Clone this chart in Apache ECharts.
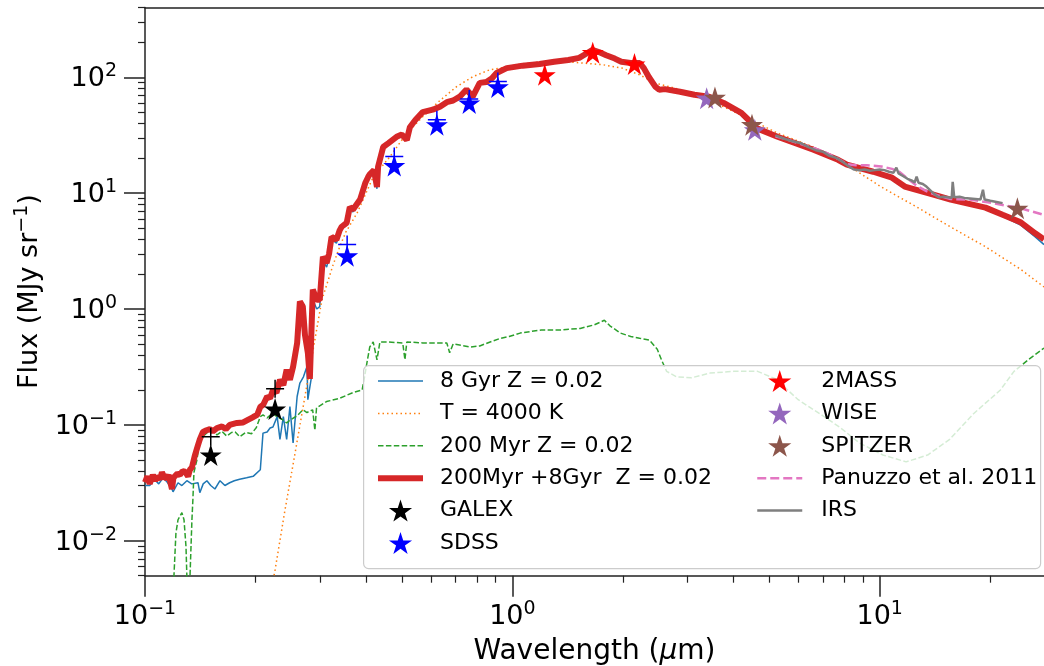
<!DOCTYPE html>
<html><head><meta charset="utf-8">
<script src="https://cdn.jsdelivr.net/npm/echarts@6/dist/echarts.min.js"></script>
<style>html,body{margin:0;padding:0;background:#fff}#c{width:1044px;height:666px}</style>
</head><body><div id="c"></div>
<script>
// ---------- tick values ----------
const xMajorTicks = [0.1, 1, 10];
const xMinorTicks = [0.2,0.3,0.4,0.5,0.6,0.7,0.8,0.9,2,3,4,5,6,7,8,9,20];
const yMajorTicks = [0.01, 0.1, 1, 10, 100];
const yMinorTicks = [0.005,0.006,0.007,0.008,0.009,0.02,0.03,0.04,0.05,0.06,0.07,0.08,0.09,
  0.2,0.3,0.4,0.5,0.6,0.7,0.8,0.9,2,3,4,5,6,7,8,9,20,30,40,50,60,70,80,90,200,300,400];

// ---------- model spectra [wavelength (um), flux (MJy/sr)] ----------
const old8Gyr = [[0.100,0.030],[0.103,0.030],[0.106,0.034],[0.109,0.031],[0.112,0.035],[0.115,0.032],[0.1184,0.028],[0.1192,0.0265],[0.123,0.0317],[0.126,0.030],[0.130,0.033],[0.134,0.031],[0.1394,0.0317],[0.141,0.026],[0.144,0.031],[0.1474,0.033],[0.151,0.030],[0.155,0.028],[0.160,0.033],[0.165,0.030],[0.170,0.0317],[0.175,0.033],[0.181,0.034],[0.189,0.035],[0.197,0.036],[0.206,0.041],[0.2095,0.085],[0.215,0.087],[0.219,0.094],[0.223,0.096],[0.229,0.118],[0.233,0.075],[0.238,0.118],[0.243,0.075],[0.248,0.144],[0.253,0.07],[0.2595,0.176],[0.264,0.23],[0.270,0.26],[0.276,0.32],[0.2775,0.165],[0.285,0.28],[0.2863,1.2],[0.2934,1.0],[0.299,1.05],[0.305,2.6],[0.3122,2.3],[0.317,2.8],[0.322,4.0],[0.332,3.7],[0.339,4.6],[0.343,4.9],[0.354,5.3],[0.361,7.3],[0.368,6.9],[0.385,8.5],[0.398,11.9],[0.405,13.4],[0.409,14.0],[0.42,15.2],[0.428,10.9],[0.431,16.4],[0.445,24.4],[0.46,26.4],[0.484,30],[0.50,31.4],[0.516,28.3],[0.526,36.4],[0.545,42.4],[0.570,49.4],[0.607,51.9],[0.635,55.1],[0.663,60.4],[0.69,62.4],[0.719,67.4],[0.75,77.9],[0.78,67.4],[0.815,89],[0.85,90.5],[0.88,97.4],[0.906,108.4],[0.965,119.4],[1.067,125.4],[1.186,129.4],[1.3,135.4],[1.42,140.4],[1.52,146.3],[1.6,161.2],[1.65,171.3],[1.72,164.3],[1.8,154.2],[1.9,144.4],[1.98,135.4],[2.1,132.5],[2.22,132.5],[2.28,119.5],[2.35,100.5],[2.45,82.6],[2.51,77.7],[2.6,78.7],[2.86,74.7],[3.13,70.3],[3.43,67.7],[3.76,59.7],[4.2,49.1],[4.39,42.8],[4.6,36.4],[5.27,30.6],[6.6,23.6],[7.7,19.3],[8.14,17.5],[9.6,15.2],[10.8,13.5],[11.7,11.3],[14.0,9.6],[15.6,8.7],[19.4,7.4],[21.6,6.3],[24.2,5.3],[26.5,4.2],[28,3.6]];

const blackBody4000 = [[0.215,0.0025],[0.226,0.0056],[0.240,0.0178],[0.2557,0.0553],[0.2724,0.175],[0.290,0.543],[0.303,1.2],[0.312,1.6],[0.325,2.4],[0.339,3.46],[0.352,4.6],[0.378,6.75],[0.418,13.8],[0.464,20.6],[0.516,33],[0.57,45.6],[0.635,63],[0.705,83],[0.78,101],[0.867,116],[0.965,123],[1.067,131],[1.186,135],[1.46,135],[1.77,128],[1.99,120],[2.22,105],[2.45,89],[2.75,81],[3.05,73],[3.43,64],[4.2,47],[5.27,33],[6.6,25],[8.14,17.6],[10.1,11.3],[12.6,7.6],[15.6,5.1],[19.4,3.45],[24.2,2.2],[28,1.55]];

const young200Myr = [[0.1195,0.003],[0.1199,0.005],[0.1214,0.0117],[0.123,0.0152],[0.126,0.0175],[0.1277,0.0152],[0.1293,0.0089],[0.130,0.005],[0.1305,0.003],[0.132,0.003],[0.1326,0.005],[0.1342,0.0152],[0.135,0.0226],[0.1359,0.039],[0.1385,0.050],[0.141,0.0745],[0.147,0.085],[0.152,0.091],[0.157,0.082],[0.162,0.088],[0.167,0.080],[0.172,0.086],[0.176,0.087],[0.181,0.079],[0.188,0.086],[0.195,0.084],[0.201,0.095],[0.206,0.118],[0.2095,0.122],[0.215,0.115],[0.223,0.127],[0.229,0.117],[0.236,0.112],[0.243,0.104],[0.248,0.11],[0.2595,0.12],[0.269,0.135],[0.276,0.128],[0.286,0.135],[0.29,0.09],[0.293,0.14],[0.312,0.159],[0.339,0.17],[0.368,0.19],[0.39,0.2],[0.396,0.26],[0.402,0.345],[0.409,0.47],[0.418,0.52],[0.428,0.365],[0.436,0.52],[0.455,0.52],[0.503,0.51],[0.51,0.365],[0.516,0.52],[0.57,0.51],[0.635,0.51],[0.663,0.51],[0.675,0.42],[0.69,0.5],[0.77,0.47],[0.815,0.48],[0.87,0.52],[0.93,0.56],[0.98,0.58],[1.05,0.62],[1.2,0.66],[1.35,0.66],[1.53,0.68],[1.67,0.73],[1.78,0.8],[1.84,0.72],[1.97,0.62],[2.1,0.58],[2.22,0.56],[2.36,0.54],[2.48,0.45],[2.55,0.36],[2.63,0.29],[2.8,0.26],[3.07,0.255],[3.45,0.28],[4.0,0.29],[4.65,0.29],[5.2,0.25],[6.0,0.165],[7.0,0.12],[7.8,0.095],[8.8,0.07],[10.2,0.055],[11.8,0.048],[13.5,0.055],[15.5,0.075],[18.0,0.125],[21.3,0.2],[23.2,0.29],[25.5,0.37],[28,0.46]];

const combinedModel = [[0.100,0.032],[0.1015,0.036],[0.103,0.031],[0.105,0.037],[0.1065,0.033],[0.108,0.036],[0.110,0.034],[0.1112,0.039],[0.113,0.035],[0.1148,0.035],[0.116,0.037],[0.1175,0.031],[0.1184,0.028],[0.1195,0.035],[0.1207,0.034],[0.1225,0.038],[0.1245,0.037],[0.1265,0.040],[0.1285,0.0395],[0.131,0.036],[0.1325,0.041],[0.1342,0.043],[0.1368,0.055],[0.1394,0.067],[0.141,0.075],[0.1438,0.087],[0.147,0.09],[0.1502,0.092],[0.153,0.088],[0.157,0.094],[0.162,0.097],[0.166,0.092],[0.170,0.1],[0.178,0.104],[0.185,0.105],[0.19,0.11],[0.197,0.117],[0.202,0.122],[0.206,0.143],[0.21,0.15],[0.215,0.176],[0.219,0.17],[0.223,0.2],[0.228,0.19],[0.233,0.245],[0.238,0.22],[0.243,0.3],[0.248,0.245],[0.253,0.318],[0.2595,0.51],[0.264,1.16],[0.2689,1.05],[0.2725,0.6],[0.2775,0.42],[0.281,0.25],[0.2863,1.47],[0.2934,1.2],[0.299,1.2],[0.305,2.83],[0.3122,2.5],[0.317,3.0],[0.322,4.2],[0.332,3.96],[0.339,4.8],[0.343,5.13],[0.354,5.55],[0.361,7.6],[0.368,7.2],[0.385,8.8],[0.398,12.3],[0.405,13.8],[0.409,14.5],[0.42,15.8],[0.428,11.3],[0.431,16.9],[0.445,25],[0.46,27],[0.484,30.6],[0.50,32],[0.516,28.8],[0.526,37],[0.545,43],[0.570,50],[0.607,52.5],[0.635,55.7],[0.663,61],[0.69,63],[0.719,68],[0.75,78.5],[0.78,68],[0.815,89.5],[0.85,91],[0.88,98],[0.906,109],[0.965,120],[1.067,126],[1.186,130],[1.3,136],[1.42,141],[1.52,147],[1.6,162],[1.65,172],[1.72,165],[1.8,155],[1.9,145],[1.98,136],[2.1,133],[2.22,133],[2.28,120],[2.35,101],[2.45,83],[2.51,78],[2.6,79],[2.86,75],[3.13,70.6],[3.43,68],[3.76,60],[4.2,49.4],[4.39,43],[4.6,36.6],[5.27,30.7],[6.6,23.7],[7.7,19.4],[8.14,17.6],[9.6,15.3],[10.8,13.6],[11.7,11.4],[14.0,9.7],[15.6,8.8],[19.4,7.5],[21.6,6.5],[24.2,5.6],[26.5,4.5],[28,4.0]];

const panuzzo2011 = [[5.2,31],[5.6,29],[6.0,27],[6.6,24.5],[7.0,23],[7.7,19.8],[8.14,17.8],[8.6,17.4],[9.2,17.4],[10.1,17.0],[10.8,16.2],[11.3,15.3],[11.9,13.4],[12.6,11.6],[13.4,10.4],[14.3,9.6],[15.6,8.9],[17.6,8.8],[20.3,8.2],[24.2,7.4],[28,6.5]];

const irsSpectrum = [[5.2,31.5],[5.5,29.5],[5.8,28],[6.1,27],[6.4,25],[6.7,23.5],[7.0,22.8],[7.3,21],[7.6,20.2],[7.9,18.8],[8.2,17.2],[8.5,16.0],[8.8,15.8],[9.1,16.0],[9.4,15.6],[9.7,15.8],[10.0,16.0],[10.3,15.8],[10.6,15.3],[10.9,15.0],[11.1,16.6],[11.25,14.8],[11.6,14.0],[11.9,13.3],[12.2,12.9],[12.45,12.4],[12.6,13.9],[12.75,12.3],[13.1,12.0],[13.4,11.4],[13.8,10.4],[14.2,9.6],[14.5,9.2],[14.9,9.3],[15.3,9.2],[15.7,9.1],[15.8,12.5],[15.95,9.2],[16.5,9.3],[17.0,9.1],[17.6,9.0],[18.2,8.9],[18.8,8.8],[19.1,10.7],[19.3,8.8],[20.0,8.6],[20.8,8.4],[21.6,8.2]];

// ---------- photometry [wavelength (um), flux] ----------
const galexPts = [[0.151,0.055],[0.226,0.137]];
const galexUp = [[0.151,0.079],[0.226,0.205]];
const sdssPts = [[0.355,2.88],[0.477,17.3],[0.623,38.9],[0.763,60],[0.913,82.6]];
const sdssUp = [[0.355,3.6],[0.477,20.7],[0.623,43],[0.763,65],[0.913,92]];
const twomassPts = [[1.225,105],[1.655,163],[2.15,130]];
const wisePts = [[3.38,66],[4.57,35.2]];
const spitzerPts = [[3.56,67],[4.49,39],[23.7,7.4]];

const legendLeft = ['8 Gyr Z = 0.02','T = 4000 K','200 Myr Z = 0.02','200Myr +8Gyr  Z = 0.02','GALEX','SDSS'];
const legendRight = ['2MASS','WISE','SPITZER','Panuzzo et al. 2011','IRS'];

const FONT = 'DejaVu Sans';
const STAR = 'path://M0,-1L0.2245,-0.309L0.9511,-0.309L0.3633,0.118L0.5878,0.809L0,0.382L-0.5878,0.809L-0.3633,0.118L-0.9511,-0.309L-0.2245,-0.309Z';
const PLUS = 'path://M-1,0L1,0M0,-1L0,1';

function powFmt(v){
  const e = Math.round(Math.log10(v));
  return '{b|10}{s|' + (e < 0 ? '\u2212' + (-e) : e) + '}';
}
const tickRich = {
  b:{fontSize:27,fontFamily:FONT,color:'#000',verticalAlign:'bottom'},
  s:{fontSize:19,fontFamily:FONT,color:'#000',verticalAlign:'bottom',padding:[0,0,12,0]}
};
const X = {min:0.1,max:28,type:'log',logBase:10};
const Y = {min:0.005,max:400,type:'log',logBase:10};
const lineAx = {show:true,lineStyle:{color:'#222',width:1.5}};

const chart = echarts.init(document.getElementById('c'), null, {renderer:'canvas'});

const lineSpecs = {};
function line(name, data, color, width, type, z){
  lineSpecs[name] = {color, width, type: type||'solid'};
  return {name, type:'line', data, xAxisIndex:0, yAxisIndex:0, showSymbol:false, symbol:'none',
    lineStyle:{color, width, type: type||'solid'}, itemStyle:{color}, z, clip:true, silent:true};
}
function stars(name, data, color, z){
  return {name, type:'scatter', data, symbol:STAR, symbolSize:22, itemStyle:{color, opacity:1}, z, silent:true};
}
function plus(data, color, z){
  return {type:'scatter', data, symbol:PLUS, symbolSize:18, symbolKeepAspect:true,
    itemStyle:{color:'rgba(0,0,0,0)', borderColor:color, borderWidth:1.5, opacity:1}, z, silent:true};
}

const seriesList = [
  line('8 Gyr Z = 0.02', old8Gyr, '#1f77b4', 1.5, 'solid', 2),
  line('T = 4000 K', blackBody4000, '#ff7f0e', 1.5, [1.5,3], 2),
  line('200 Myr Z = 0.02', young200Myr, '#2ca02c', 1.5, [5.5,2.4], 2),
  line('200Myr +8Gyr  Z = 0.02', combinedModel, '#d62728', 6, 'solid', 2),
  stars('GALEX', galexPts, '#000000', 2),
  plus(galexUp, '#000000', 2),
  stars('SDSS', sdssPts, '#0000ff', 2),
  plus(sdssUp, '#0000ff', 2),
  stars('2MASS', twomassPts, '#ff0000', 2),
  stars('WISE', wisePts, '#9467bd', 2),
  stars('SPITZER', spitzerPts, '#8c564b', 2),
  line('Panuzzo et al. 2011', panuzzo2011, '#e377c2', 2.5, [9,4], 2),
  line('IRS', irsSpectrum, '#7f7f7f', 2.5, 'solid', 2)
];

function legendItems(names){
  return names.map(n => {
    const s = lineSpecs[n];
    if (!s) return {name:n};
    return {name:n,
      itemStyle:{color:'rgba(0,0,0,0)', borderColor:'rgba(0,0,0,0)', borderWidth:0},
      lineStyle:{color:s.color, width:s.width, type:s.type}};
  });
}

const legendCommon = {orient:'vertical', itemWidth:45, itemHeight:22, itemGap:10.4, padding:0, selectedMode:false,
  textStyle:{fontSize:22, fontFamily:FONT, color:'#000', lineHeight:22}, z:5};

chart.setOption({
  animation:false,
  backgroundColor:'#fff',
  grid:{left:145, right:0, top:7.5, bottom:90.3, containLabel:false, outerBoundsMode:'none'},
  xAxis:[
    Object.assign({}, X, {position:'bottom', axisLine:lineAx,
      axisTick:{show:true, customValues:xMajorTicks, length:21, lineStyle:{color:'#222',width:1.5}},
      axisLabel:{show:true, customValues:xMajorTicks, formatter:powFmt, rich:tickRich, margin:24},
      splitLine:{show:false},
      name:'{n|Wavelength (}{i|\u03bc}{n|m)}', nameLocation:'middle', nameGap:62,
      nameTextStyle:{rich:{n:{fontSize:28,fontFamily:FONT,color:'#000'},i:{fontSize:28,fontFamily:FONT,fontStyle:'italic',color:'#000'}}}}),
    Object.assign({}, X, {position:'bottom', axisLine:{show:false},
      axisTick:{show:true, customValues:xMinorTicks, length:7, lineStyle:{color:'#222',width:1.2}},
      axisLabel:{show:false}, splitLine:{show:false}}),
    Object.assign({}, X, {position:'top', axisLine:lineAx, axisTick:{show:false}, axisLabel:{show:false}, splitLine:{show:false}})
  ],
  yAxis:[
    Object.assign({}, Y, {position:'left', axisLine:lineAx,
      axisTick:{show:true, customValues:yMajorTicks, length:21, lineStyle:{color:'#222',width:1.5}},
      axisLabel:{show:true, customValues:yMajorTicks, formatter:powFmt, rich:tickRich, margin:28},
      splitLine:{show:false},
      name:'{n|Flux (MJy sr}{s|\u22121}{n|)}', nameLocation:'middle', nameGap:100, nameRotate:90,
      nameTextStyle:{rich:{n:{fontSize:27,fontFamily:FONT,color:'#000',verticalAlign:'bottom'},s:{fontSize:19,fontFamily:FONT,color:'#000',verticalAlign:'bottom',padding:[0,0,12,0]}}}}),
    Object.assign({}, Y, {position:'left', axisLine:{show:false},
      axisTick:{show:true, customValues:yMinorTicks, length:7, lineStyle:{color:'#222',width:1.2}},
      axisLabel:{show:false}, splitLine:{show:false}})
  ],
  legend:[
    Object.assign({}, legendCommon, {data:legendItems(legendLeft), left:375, top:370,
      textStyle:Object.assign({}, legendCommon.textStyle, {padding:[0,0,0,12]})}),
    Object.assign({}, legendCommon, {data:legendItems(legendRight), left:756, top:370,
      textStyle:Object.assign({}, legendCommon.textStyle, {padding:[0,0,0,14]})})
  ],
  graphic:{elements:[{type:'rect', left:363, top:365, z:3, zlevel:0,
    shape:{width:677, height:203, r:5},
    style:{fill:'rgba(255,255,255,0.8)', stroke:'#cccccc', lineWidth:1.2}}]},
  series: seriesList
});
</script></body></html>
